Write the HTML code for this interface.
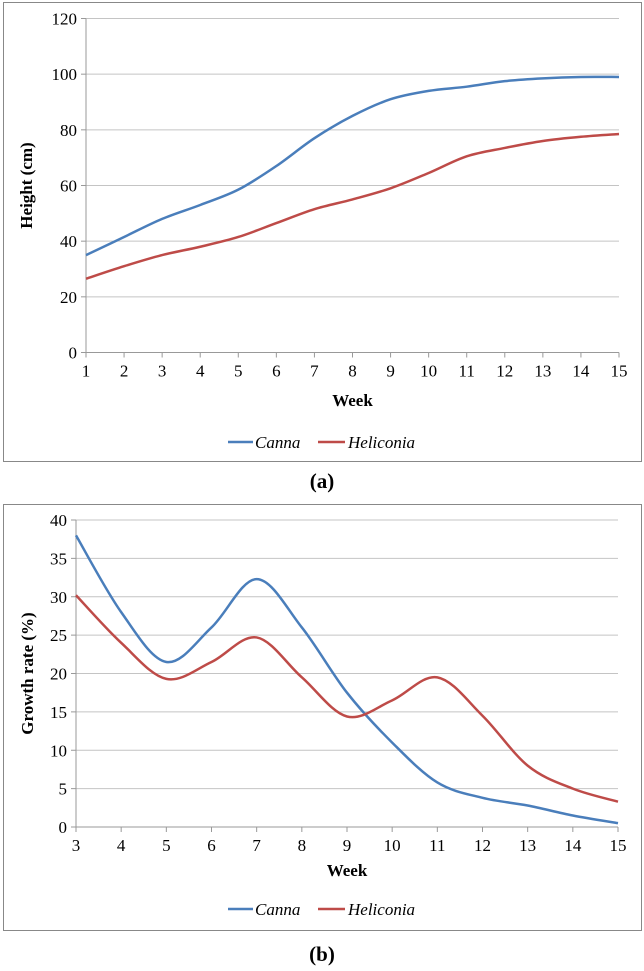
<!DOCTYPE html>
<html><head><meta charset="utf-8"><style>
body{margin:0;background:#fff;}
svg{display:block;font-family:"Liberation Serif",serif;}
</style></head><body>
<svg id="s" width="644" height="971" viewBox="0 0 644 971">
<rect x="3.5" y="2.5" width="638" height="459" fill="#fff" stroke="#888"/>
<rect x="3.5" y="504.5" width="638" height="426" fill="#fff" stroke="#888"/>
<text x="322" y="488" font-size="21" font-weight="bold" text-anchor="middle">(a)</text>
<text x="322" y="961" font-size="21" font-weight="bold" text-anchor="middle">(b)</text>
</svg>
<script>
const weeksA=[1,2,3,4,5,6,7,8,9,10,11,12,13,14,15];
const cannaA=[35,41.5,48,53,58.5,67,77,85,91,94,95.5,97.5,98.5,99,99];
const heliA=[26.5,31,35,38,41.5,46.5,51.5,55,59,64.5,70.5,73.5,76,77.5,78.5];
const yTicksA=[0,20,40,60,80,100,120];
const weeksB=[3,4,5,6,7,8,9,10,11,12,13,14,15];
const cannaB=[38,28,21.5,26,32.3,26,17.5,11,5.8,3.8,2.8,1.5,0.5];
const heliB=[30.2,24,19.3,21.5,24.7,19.5,14.4,16.5,19.5,14.5,8,5,3.3];
const yTicksB=[0,5,10,15,20,25,30,35,40];
const NS="http://www.w3.org/2000/svg",svg=document.getElementById('s');
function mk(t,a,p){const e=document.createElementNS(NS,t);for(const k in a)e.setAttribute(k,a[k]);(p||svg).appendChild(e);return e;}
function path(pts){let d=`M${pts[0][0]},${pts[0][1]}`;for(let i=0;i<pts.length-1;i++){const p0=pts[i-1]||pts[i],p1=pts[i],p2=pts[i+1],p3=pts[i+2]||p2;const t=6;d+=`C${p1[0]+(p2[0]-p0[0])/t},${p1[1]+(p2[1]-p0[1])/t} ${p2[0]-(p3[0]-p1[0])/t},${p2[1]-(p3[1]-p1[1])/t} ${p2[0]},${p2[1]}`;}return d;}
function chart(c){
 const X=v=>c.x0+(v-c.xs[0])/(c.xs[c.xs.length-1]-c.xs[0])*(c.x1-c.x0);
 const Y=v=>c.y0-(v-c.ymin)/(c.ymax-c.ymin)*(c.y0-c.y1);
 let e;
 c.yt.forEach(v=>{if(v!==c.ymin){e=mk('line',{x1:c.x0,x2:c.x1,y1:Y(v),y2:Y(v),stroke:'#c4c4c4'});
  }});
 e=mk('line',{x1:c.x0,y1:c.y1,x2:c.x0,y2:c.y0,stroke:'#999'});
 
 e=mk('line',{x1:c.x0,y1:c.y0,x2:c.x1,y2:c.y0,stroke:'#999'});
 
 c.yt.forEach(v=>{e=mk('line',{x1:c.x0-5,x2:c.x0,y1:Y(v),y2:Y(v),stroke:'#999'});
  
  e=mk('text',{x:c.x0-9,y:Y(v)+6,'font-size':17,'text-anchor':'end'});e.textContent=v;
  });
 c.xs.forEach(v=>{e=mk('line',{x1:X(v),x2:X(v),y1:c.y0,y2:c.y0+5,stroke:'#999'});
  
  e=mk('text',{x:X(v),y:c.y0+24,'font-size':17,'text-anchor':'middle'});e.textContent=v;
  });
 [[c.a,'#4a7ebb','canna-line'],[c.b,'#be4b48','heliconia-line']].forEach(([s,col,n])=>{
  e=mk('path',{d:path(s.map((v,i)=>[X(c.xs[i]),Y(v)])),fill:'none',stroke:col,'stroke-width':2.5});
  });
 e=mk('text',{x:(c.x0+c.x1)/2,y:c.wy,'font-size':17,'font-weight':'bold','text-anchor':'middle'});e.textContent='Week';
 
 const cy=(c.y0+c.y1)/2;
 e=mk('text',{x:c.yx,y:cy,'font-size':17,'font-weight':'bold','text-anchor':'middle',transform:`rotate(-90 ${c.yx} ${cy})`});e.textContent=c.ylab;
 
 const ly=c.ly;
 e=mk('line',{x1:228,x2:253,y1:ly,y2:ly,stroke:'#4a7ebb','stroke-width':2.5});
 e=mk('text',{x:255,y:ly+6,'font-size':17,'font-style':'italic'});e.textContent='Canna';
 e=mk('line',{x1:318,x2:345,y1:ly,y2:ly,stroke:'#be4b48','stroke-width':2.5});
 e=mk('text',{x:348,y:ly+6,'font-size':17,'font-style':'italic'});e.textContent='Heliconia';
}
chart({xs:weeksA,a:cannaA,b:heliA,yt:yTicksA,x0:86,x1:619,y0:352.5,y1:18.5,ymin:0,ymax:120,ylab:'Height (cm)',yx:32,ly:442,wy:406});
chart({xs:weeksB,a:cannaB,b:heliB,yt:yTicksB,x0:76,x1:618,y0:827,y1:520,ymin:0,ymax:40,ylab:'Growth rate (%)',yx:33,ly:909,wy:876});
</script>
</body></html>
